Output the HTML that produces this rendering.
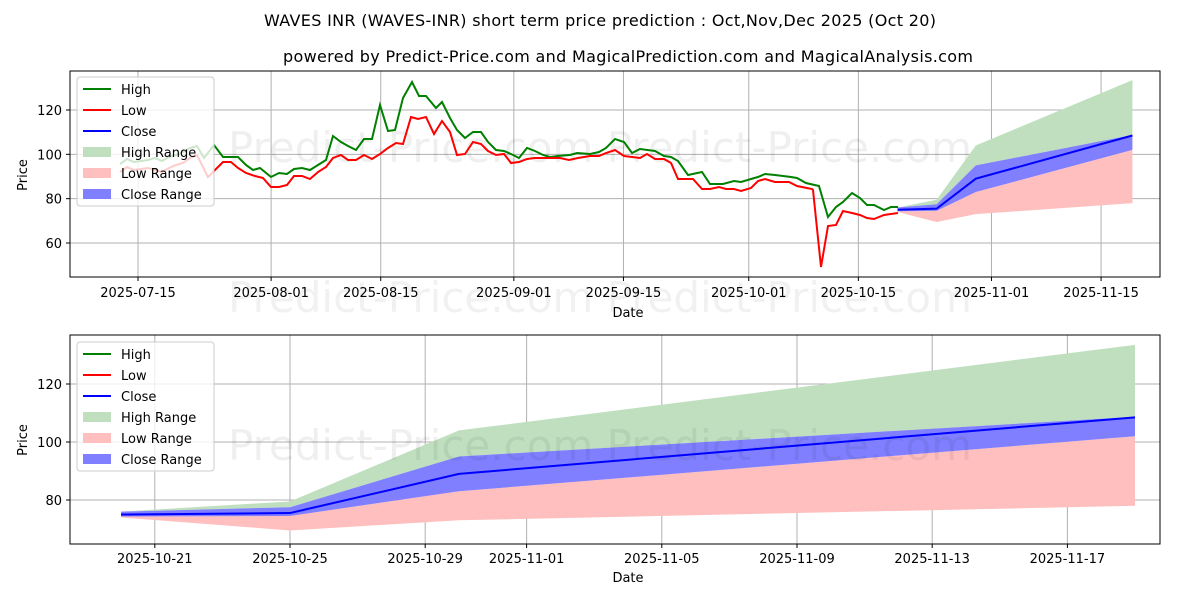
<!DOCTYPE html>
<html><head><meta charset="utf-8"><style>
html,body{margin:0;padding:0;background:#fff}
svg{display:block;font-family:"DejaVu Sans","Liberation Sans",sans-serif}
</style></head><body>
<svg id="s" width="1200" height="600" viewBox="0 0 1200 600" xmlns="http://www.w3.org/2000/svg">
<rect width="1200" height="600" fill="#fff"/>
<text x="600" y="26" text-anchor="middle" font-size="16" textLength="672">WAVES INR (WAVES-INR) short term price prediction : Oct,Nov,Dec 2025 (Oct 20)</text>
<text x="628" y="62" text-anchor="middle" font-size="16" textLength="690">powered by Predict-Price.com and MagicalPrediction.com and MagicalAnalysis.com</text>
<g id="gtop"></g>
<g id="gbot"></g>
</svg>
<script>
(function(){
const NS="http://www.w3.org/2000/svg";
function el(p,tag,a,txt){const e=document.createElementNS(NS,tag);for(const k in a)e.setAttribute(k,a[k]);if(txt!==undefined)e.textContent=txt;p.appendChild(e);return e;}
const gT=document.getElementById('gtop'),gB=document.getElementById('gbot');
const ty=v=>243-(v-60)*2.2167, tx=d=>138+d*7.83;
[60,80,100,120].forEach(v=>{el(gT,'line',{x1:70,x2:1160,y1:ty(v),y2:ty(v),stroke:'#b0b0b0','stroke-width':1});el(gT,'text',{x:62,y:ty(v)+5,'text-anchor':'end','font-size':13},v);});
[['2025-07-15',0],['2025-08-01',17],['2025-08-15',31],['2025-09-01',48],['2025-09-15',62],['2025-10-01',78],['2025-10-15',92],['2025-11-01',109],['2025-11-15',123]].forEach(([t,d])=>{const x=tx(d);el(gT,'line',{x1:x,x2:x,y1:71,y2:277,stroke:'#b0b0b0','stroke-width':1});el(gT,'line',{x1:x,x2:x,y1:277,y2:281,stroke:'#000'});el(gT,'text',{x:x,y:297,'text-anchor':'middle','font-size':13},t);});
el(gT,'text',{x:628,y:317,'text-anchor':'middle','font-size':13},'Date');
el(gT,'text',{x:27,y:175,'text-anchor':'middle','font-size':13,transform:'rotate(-90 27 175)'},'Price');
el(gT,'text',{x:600,y:162,'text-anchor':'middle','font-size':42,fill:'#000',opacity:0.06},'Predict-Price.com     Predict-Price.com');
el(gT,'text',{x:600,y:312,'text-anchor':'middle','font-size':42,fill:'#000',opacity:0.05},'Predict-Price.com     Predict-Price.com');
const P=[97,102,107,127];
const H=[76,79.5,104,133.5],CU=[76,77.5,95,108.7],C=[75,75.5,89,108.5],CL=[74.3,74.5,83,102],L=[74,69.5,73,78];
function band(g,X,Y,a,b,fill){let pts=[];for(let i=0;i<a.length;i++)pts.push(X(P[i])+','+Y(a[i]));for(let i=b.length-1;i>=0;i--)pts.push(X(P[i])+','+Y(b[i]));el(g,'polygon',{points:pts.join(' '),fill:fill});}
function line(g,X,Y,v,col){el(g,'polyline',{points:P.map((d,i)=>X(d)+','+Y(v[i])).join(' '),fill:'none',stroke:col,'stroke-width':2});}
band(gT,tx,ty,H,CU,'#bfdfbf');band(gT,tx,ty,CL,L,'#ffbfbf');band(gT,tx,ty,CU,CL,'#7f7fff');
const hi="120,164 127,159 134,162 141,161 148,160 155,158 162,161 169,157 176,155 183,152 190,148 197,146 204,158 214,145 223,157 231,157 238,157 246,165 253,170 260,168 271,177 279,173 287,174 294,169 302,168 310,170 318,165 326,160 333,136 341,142 348,146 356,150 364,139 372,139 380,105 388,131 395,130 403,98 412,82 419,96 426,96 436,108 442,102 450,118 457,130 465,138 473,132 481,132 488,142 496,150 504,151 511,154 519,158 527,148 535,151 543,155 550,157 558,156 570,155 577,153 590,154 599,152 606,148 615,139 624,142 632,153 640,149 655,151 664,156 671,157 678,161 688,175 702,172 710,184 723,184 734,181 741,182 751,179 758,177 765,174 775,175 791,177 797,178 806,183 819,186 828,217 836,207 843,202 852,193 860,198 867,205 874,205 884,210 891,207 898,207";
const lo="120,172 127,167 134,170 141,169 148,168 155,170 162,172 169,168 176,165 183,163 190,158 197,155 208,177 223,162 231,162 238,168 246,173 255,176 263,178 271,187 279,187 287,185 294,176 302,176 310,179 318,172 326,167 333,158 341,155 348,160 356,160 364,155 372,159 380,154 388,148 396,143 403,144 411,117 418,119 426,117 434,134 442,121 450,132 457,155 465,154 473,142 481,144 488,151 496,155 504,154 511,163 519,162 527,159 535,158 543,158 550,158 560,158 569,160 578,158 590,156 599,156 606,153 615,150 624,156 632,157 640,158 647,154 655,159 664,159 671,163 678,179 693,179 702,189 710,189 719,187 726,189 734,189 741,191 751,188 758,181 765,179 775,182 789,182 797,186 812,189 813,190 821,267 828,226 836,225 843,211 852,213 860,215 867,218 874,219 884,215 891,214 898,213";
el(gT,'polyline',{points:hi,fill:'none',stroke:'#008000','stroke-width':2});
el(gT,'polyline',{points:lo,fill:'none',stroke:'#ff0000','stroke-width':2});
line(gT,tx,ty,C,'#0000ff');
el(gT,'rect',{x:70,y:71,width:1090,height:206,fill:'none',stroke:'#000','stroke-width':1});
[60,80,100,120].forEach(v=>el(gT,'line',{x1:66,x2:70,y1:ty(v),y2:ty(v),stroke:'#000'}));
function legend(g,x0,y0,dy){el(g,'rect',{x:x0,y:y0,width:137,height:129,rx:3,fill:'#fff','fill-opacity':0.8,stroke:'#ccc'});
 const it=[['High','#008000',0],['Low','#ff0000',0],['Close','#0000ff',0],['High Range','#bfdfbf',1],['Low Range','#ffbfbf',1],['Close Range','#7f7fff',1]];
 it.forEach((e,i)=>{const y=y0+12+i*dy;if(e[2])el(g,'rect',{x:x0+6,y:y-5,width:28,height:10,fill:e[1]});else el(g,'line',{x1:x0+6,x2:x0+34,y1:y,y2:y,stroke:e[1],'stroke-width':2});el(g,'text',{x:x0+44,y:y+5,'font-size':13},e[0]);});}
legend(gT,77,77,21);
const by=v=>442-(v-100)*2.9, bx=d=>121+(d-97)*33.8;
[80,100,120].forEach(v=>{el(gB,'line',{x1:70,x2:1160,y1:by(v),y2:by(v),stroke:'#b0b0b0'});el(gB,'line',{x1:66,x2:70,y1:by(v),y2:by(v),stroke:'#000'});el(gB,'text',{x:62,y:by(v)+5,'text-anchor':'end','font-size':13},v);});
[['2025-10-21',98],['2025-10-25',102],['2025-10-29',106],['2025-11-01',109],['2025-11-05',113],['2025-11-09',117],['2025-11-13',121],['2025-11-17',125]].forEach(([t,d])=>{const x=bx(d);el(gB,'line',{x1:x,x2:x,y1:335,y2:544,stroke:'#b0b0b0'});el(gB,'line',{x1:x,x2:x,y1:544,y2:548,stroke:'#000'});el(gB,'text',{x:x,y:563,'text-anchor':'middle','font-size':13},t);});
el(gB,'text',{x:628,y:582,'text-anchor':'middle','font-size':13},'Date');
el(gB,'text',{x:27,y:440,'text-anchor':'middle','font-size':13,transform:'rotate(-90 27 440)'},'Price');
band(gB,bx,by,H,CU,'#bfdfbf');band(gB,bx,by,CL,L,'#ffbfbf');band(gB,bx,by,CU,CL,'#7f7fff');
el(gB,'text',{x:600,y:460,'text-anchor':'middle','font-size':42,fill:'#000',opacity:0.06},'Predict-Price.com     Predict-Price.com');
line(gB,bx,by,C,'#0000ff');
el(gB,'rect',{x:70,y:335,width:1090,height:209,fill:'none',stroke:'#000'});
legend(gB,77,342,21);
})();
</script>
</body></html>
